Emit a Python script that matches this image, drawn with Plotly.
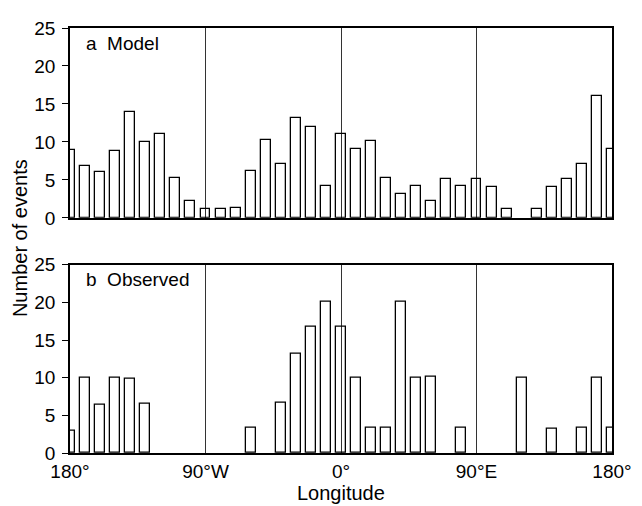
import plotly.graph_objects as go
from plotly.subplots import make_subplots

# ---- data ----
longitudes = list(range(-180, 181, 10))
model_events = [9.0, 6.8, 6.1, 8.8, 13.9, 10.0, 11.0, 5.3, 2.2, 1.2, 1.2, 1.3, 6.2,
                10.2, 7.1, 13.1, 12.0, 4.2, 11.0, 9.1, 10.1, 5.2, 3.2, 4.2, 2.2, 5.15,
                4.2, 5.1, 4.1, 1.1, 0.0, 1.1, 4.1, 5.1, 7.1, 16.1, 9.05]
observed_events = [3.0, 10.0, 6.4, 10.0, 9.9, 6.6, 0, 0, 0, 0, 0, 0, 3.4,
                   0, 6.7, 13.2, 16.7, 20.1, 16.8, 10.0, 3.3, 3.3, 20.1, 10.0, 10.1, 0,
                   3.4, 0, 0, 0, 10.0, 0, 3.15, 0, 3.3, 10.0, 3.3]
x_tick_vals = [-180, -90, 0, 90, 180]
x_tick_text = ["180°", "90°W", "0°", "90°E", "180°"]
y_tick_vals = [0, 5, 10, 15, 20, 25]
panel_labels = ["a  Model", "b  Observed"]

FONT = "Liberation Sans, Arial, Helvetica, sans-serif"

fig = make_subplots(rows=2, cols=1, vertical_spacing=0.11)

for row, vals in ((1, model_events), (2, observed_events)):
    # empty bins get no outline so the baseline stays clean
    outline = [1.3 if v > 0 else 0 for v in vals]
    fig.add_trace(go.Bar(
        x=longitudes, y=vals, width=6.6,
        marker=dict(color="rgba(0,0,0,0)", line=dict(color="black", width=outline)),
        showlegend=False, hoverinfo="skip"), row=row, col=1)

axis_common = dict(showline=True, linecolor="black", linewidth=1.5, mirror=True,
                   layer="above traces")
for row in (1, 2):
    fig.update_xaxes(range=[-180, 180], tickvals=x_tick_vals, ticktext=x_tick_text,
                     showgrid=True, gridcolor="#333", gridwidth=1, ticks="",
                     zeroline=False, showticklabels=(row == 2),
                     tickfont=dict(family=FONT, size=19, color="black"),
                     row=row, col=1, **axis_common)
    fig.update_yaxes(range=[0, 25], tickvals=y_tick_vals, ticks="outside", ticklen=6,
                     tickcolor="black", tickwidth=1.3, showgrid=False, zeroline=False,
                     tickfont=dict(family=FONT, size=19, color="black"),
                     ticklabelstandoff=3,
                     row=row, col=1, **axis_common)

# the page body adds an 8px margin; the figure size/margins compensate for it
fig.update_layout(
    width=634, height=498,
    margin=dict(l=62, r=30, t=10, b=53),
    plot_bgcolor="white", paper_bgcolor="white",
    bargap=0,
    xaxis=dict(domain=[0, 1]), xaxis2=dict(domain=[0, 1]),
    yaxis=dict(domain=[0.5533, 1.0]), yaxis2=dict(domain=[0.0, 0.4428]),
    font=dict(family=FONT, color="black"),
)

for i, label in enumerate(panel_labels):
    fig.add_annotation(text=label, xref=f"x{'' if i == 0 else 2} domain",
                       yref=f"y{'' if i == 0 else 2} domain",
                       x=0.026, y=0.92, xanchor="left", yanchor="middle",
                       showarrow=False, font=dict(family=FONT, size=19, color="black"))

fig.add_annotation(text="Number of events", xref="paper", yref="paper",
                   x=-0.092, y=0.506, textangle=-90, showarrow=False,
                   xanchor="center", yanchor="middle",
                   font=dict(family=FONT, size=20, color="black"))
fig.add_annotation(text="Longitude", xref="paper", yref="paper",
                   x=0.5, y=-0.094, showarrow=False,
                   xanchor="center", yanchor="middle",
                   font=dict(family=FONT, size=20, color="black"))

fig.write_html("out.html")
